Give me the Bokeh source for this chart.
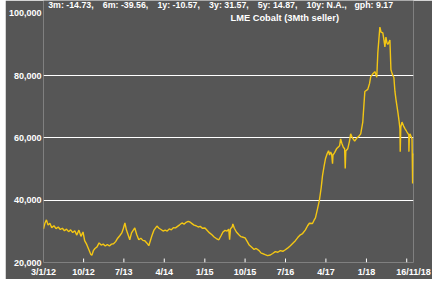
import pandas as pd
from bokeh.plotting import figure
from bokeh.models import Range1d, FixedTicker, Label, ColumnDataSource
from bokeh.embed import file_html
from bokeh.resources import INLINE

# ---------------- data ----------------
dates = [
    "2012-01-03", "2012-01-12", "2012-01-23", "2012-02-03", "2012-02-15", "2012-02-28",
    "2012-03-14", "2012-03-28", "2012-04-12", "2012-04-26", "2012-05-10", "2012-05-24",
    "2012-06-07", "2012-06-21", "2012-07-05", "2012-07-19", "2012-08-02", "2012-08-16",
    "2012-08-30", "2012-09-13", "2012-09-27", "2012-10-08", "2012-10-22", "2012-11-05",
    "2012-11-19", "2012-11-26", "2012-12-06", "2012-12-17", "2012-12-31", "2013-01-14",
    "2013-01-28", "2013-02-11", "2013-02-25", "2013-03-11", "2013-03-25", "2013-04-08",
    "2013-04-22", "2013-05-06", "2013-05-20", "2013-06-03", "2013-06-17", "2013-06-28",
    "2013-07-08", "2013-07-18", "2013-07-29", "2013-08-10", "2013-08-22", "2013-09-13",
    "2013-09-26", "2013-10-10", "2013-10-24", "2013-11-07", "2013-11-20", "2013-12-05",
    "2013-12-17", "2014-01-07", "2014-01-20", "2014-02-10", "2014-02-24", "2014-03-10",
    "2014-03-24", "2014-04-07", "2014-04-21", "2014-05-05", "2014-05-19", "2014-06-02",
    "2014-06-16", "2014-06-30", "2014-07-14", "2014-07-30", "2014-08-13", "2014-08-27",
    "2014-09-10", "2014-09-22", "2014-10-06", "2014-10-20", "2014-11-03", "2014-11-17",
    "2014-12-01", "2014-12-15", "2015-01-02", "2015-01-19", "2015-02-02", "2015-02-18",
    "2015-03-05", "2015-03-20", "2015-04-06", "2015-04-20", "2015-05-04", "2015-05-18",
    "2015-06-01", "2015-06-12", "2015-06-18", "2015-06-24", "2015-07-06", "2015-07-10",
    "2015-07-20", "2015-08-03", "2015-08-20", "2015-09-03", "2015-09-17", "2015-10-01",
    "2015-10-15", "2015-10-29", "2015-11-17", "2015-12-01", "2015-12-15", "2016-01-04",
    "2016-01-18", "2016-02-01", "2016-02-14", "2016-03-01", "2016-03-20", "2016-04-05",
    "2016-04-23", "2016-05-10", "2016-05-27", "2016-06-13", "2016-06-30", "2016-07-15",
    "2016-08-03", "2016-08-20", "2016-09-06", "2016-09-22", "2016-10-10", "2016-10-25",
    "2016-11-13", "2016-11-28", "2016-12-10", "2016-12-31", "2017-01-10", "2017-01-20",
    "2017-02-02", "2017-02-16", "2017-02-28", "2017-03-09", "2017-03-20", "2017-03-29",
    "2017-04-10", "2017-04-19", "2017-04-26", "2017-05-03", "2017-05-10", "2017-05-16",
    "2017-05-19", "2017-05-30", "2017-06-12", "2017-06-26", "2017-07-03", "2017-07-10",
    "2017-07-18", "2017-07-28", "2017-08-06", "2017-08-10", "2017-08-14", "2017-08-27",
    "2017-09-08", "2017-09-16", "2017-09-28", "2017-10-13", "2017-10-25", "2017-11-03",
    "2017-11-15", "2017-11-23", "2017-12-07", "2017-12-14", "2017-12-21", "2018-01-10",
    "2018-01-22", "2018-01-30", "2018-02-12", "2018-02-27", "2018-03-12", "2018-03-19",
    "2018-03-26", "2018-04-02", "2018-04-10", "2018-04-22", "2018-05-01", "2018-05-06",
    "2018-05-13", "2018-05-20", "2018-05-26", "2018-06-09", "2018-06-16", "2018-06-25",
    "2018-07-06", "2018-07-13", "2018-07-20", "2018-08-02", "2018-08-10", "2018-08-16",
    "2018-08-18", "2018-08-22", "2018-08-30", "2018-09-10", "2018-09-19", "2018-10-03",
    "2018-10-15", "2018-10-16", "2018-10-19", "2018-10-23", "2018-11-06", "2018-11-10",
    "2018-11-13", "2018-11-16",
]
prices = [
    30800, 32500, 33700, 32000, 32600, 31200,
    31800, 30900, 31400, 30600, 31000, 30200,
    30700, 29900, 30500, 29600, 30200, 28800,
    30400, 28400, 29800, 27000, 25800, 24200,
    22600, 22300, 23800, 24500, 25000, 26300,
    25600, 25900, 25300, 25800, 25300, 25900,
    26000, 26700, 27800, 28600, 29500, 31000,
    32700, 30500, 29000, 27300, 29500, 31100,
    29000, 27300, 27800, 27100, 27000, 26200,
    25400, 28600, 30300, 31700, 31000, 30600,
    30100, 30400, 30100, 30800, 30500, 31200,
    31100, 31600, 32100, 32700, 32300, 32900,
    33200, 33000, 32500, 32000, 31800, 31400,
    31600, 31000, 31100, 30200, 29500, 28900,
    28200, 27700, 27300, 28500, 29800, 30300,
    30100, 30700, 27300, 30800, 31500, 32400,
    31000, 29800, 28900, 28300, 28100, 27900,
    26800, 25600, 24800, 24200, 24500, 23800,
    23000, 22800, 22500, 22200, 22400, 22900,
    23500, 23300, 23800, 23600, 24100, 24600,
    25400, 26200, 27000, 28000, 28900, 29300,
    30500, 31800, 32600, 32500, 33500, 34300,
    37000, 40000, 44000, 47900, 51000, 53300,
    55000, 55900, 54500, 55500, 54800, 51700,
    54500, 55300, 56500, 57200, 57500, 59700,
    58300, 57000, 56500, 50200, 55800, 56500,
    59000, 61300, 60000, 59000, 59800, 60200,
    60800, 61300, 65100, 70000, 74900, 75600,
    77500, 79700, 80500, 81300, 79500, 87300,
    91500, 95600, 94000, 93700, 91000, 89200,
    92400, 90500, 90000, 91400, 81900, 80500,
    79400, 75000, 72400, 68300, 65500, 62900,
    55600, 63500, 65100, 63800, 63000, 61900,
    61000, 55600, 60800, 61300, 59700, 45400,
    54300, 55000,
]

series_name = "LME Cobalt (3Mth seller)"
stats = ["3m: -14.73,", "6m: -39.56,", "1y: -10.57,", "3y: 31.57,",
         "5y: 14.87,", "10y: N.A.,", "gph: 9.17"]

y_ticks = [20000, 40000, 60000, 80000, 100000]
y_tick_labels = ["20,000", "40,000", "60,000", "80,000", "100,000"]
grid_values = [40000, 60000, 80000]

x_tick_dates = ["2012-10-01", "2013-07-01", "2014-04-01", "2015-01-01", "2015-10-01",
                "2016-07-01", "2017-04-01", "2018-01-01", "2018-10-01"]
x_tick_labels = ["10/12", "7/13", "4/14", "1/15", "10/15", "7/16", "4/17", "1/18", ""]
start_label = "3/1/12"
end_label = "16/11/18"


def ms(d):
    return int(pd.Timestamp(d).value // 10**6)


xs = [ms(d) for d in dates]
x_ticks = [ms(d) for d in x_tick_dates]

# ---------------- style ----------------
BG = "#565656"
LINE = "#F3C614"
FONT = "Liberation Sans"

x_start, x_end = xs[0], xs[-1]
# frame spans from canvas top (0) to 265 px; 100,000 sits 13 px below the top
y_bottom = 20000
y_top = 100000 + 13 * (20000 / 63)

p = figure(width=427, height=279, output_backend="svg", toolbar_location=None,
           x_range=Range1d(x_start, x_end), y_range=Range1d(y_bottom, y_top),
           background_fill_color=BG, border_fill_color=BG,
           min_border_left=37, min_border_right=19, min_border_top=0,
           min_border_bottom=14, outline_line_color=None, margin=(0, 0, 0, 5))

p.line(xs, prices, line_color=LINE, line_width=1.4)

# tick marks on the time axis
tick_len = 4 * (20000 / 63)
src_ticks = ColumnDataSource(dict(x=x_ticks, y0=[y_bottom] * len(x_ticks),
                                  y1=[y_bottom + tick_len] * len(x_ticks)))
p.segment(x0="x", y0="y0", x1="x", y1="y1", source=src_ticks,
          line_color="white", line_width=1)

# grid
p.xgrid.visible = False
p.ygrid.ticker = FixedTicker(ticks=grid_values)
p.ygrid.grid_line_color = "white"
p.ygrid.grid_line_width = 1

# y axis
ya = p.yaxis[0]
ya.ticker = FixedTicker(ticks=y_ticks)
ya.major_label_overrides = {t: l for t, l in zip(y_ticks, y_tick_labels)}
ya.axis_line_color = None
ya.major_tick_line_color = None
ya.minor_tick_line_color = None
ya.major_tick_out = 0
ya.major_tick_in = 0
ya.major_label_standoff = 2
ya.major_label_text_color = "white"
ya.major_label_text_font = FONT
ya.major_label_text_font_style = "bold"
ya.major_label_text_font_size = "9px"

# x axis
xa = p.xaxis[0]
all_x_ticks = [x_start] + x_ticks[:-1] + [x_end]
all_x_labels = [start_label] + x_tick_labels[:-1] + [end_label]
xa.ticker = FixedTicker(ticks=all_x_ticks)
xa.major_label_overrides = {t: l for t, l in zip(all_x_ticks, all_x_labels)}
xa.axis_line_color = None
xa.major_tick_line_color = None
xa.minor_tick_line_color = None
xa.major_tick_out = 0
xa.major_tick_in = 0
xa.major_label_standoff = 4
xa.major_label_text_color = "white"
xa.major_label_text_font = FONT
xa.major_label_text_font_style = "bold"
xa.major_label_text_font_size = "9px"

# header texts (screen offsets from frame left / frame bottom)
stat_x = [4.7, 59.3, 113.9, 165.6, 214.3, 263, 311]
for s, sx in zip(stats, stat_x):
    p.add_layout(Label(x=sx, y=265 - 7, x_units="screen", y_units="screen", text=s,
                       text_color="white", text_font=FONT, text_font_style="bold",
                       text_font_size="8.8px", text_baseline="middle", text_align="left"))
p.add_layout(Label(x=187, y=265 - 20, x_units="screen", y_units="screen", text=series_name,
                   text_color="white", text_font=FONT, text_font_style="bold",
                   text_font_size="9.3px", text_baseline="middle", text_align="left"))

open("out.html", "w").write(file_html(p, INLINE))
